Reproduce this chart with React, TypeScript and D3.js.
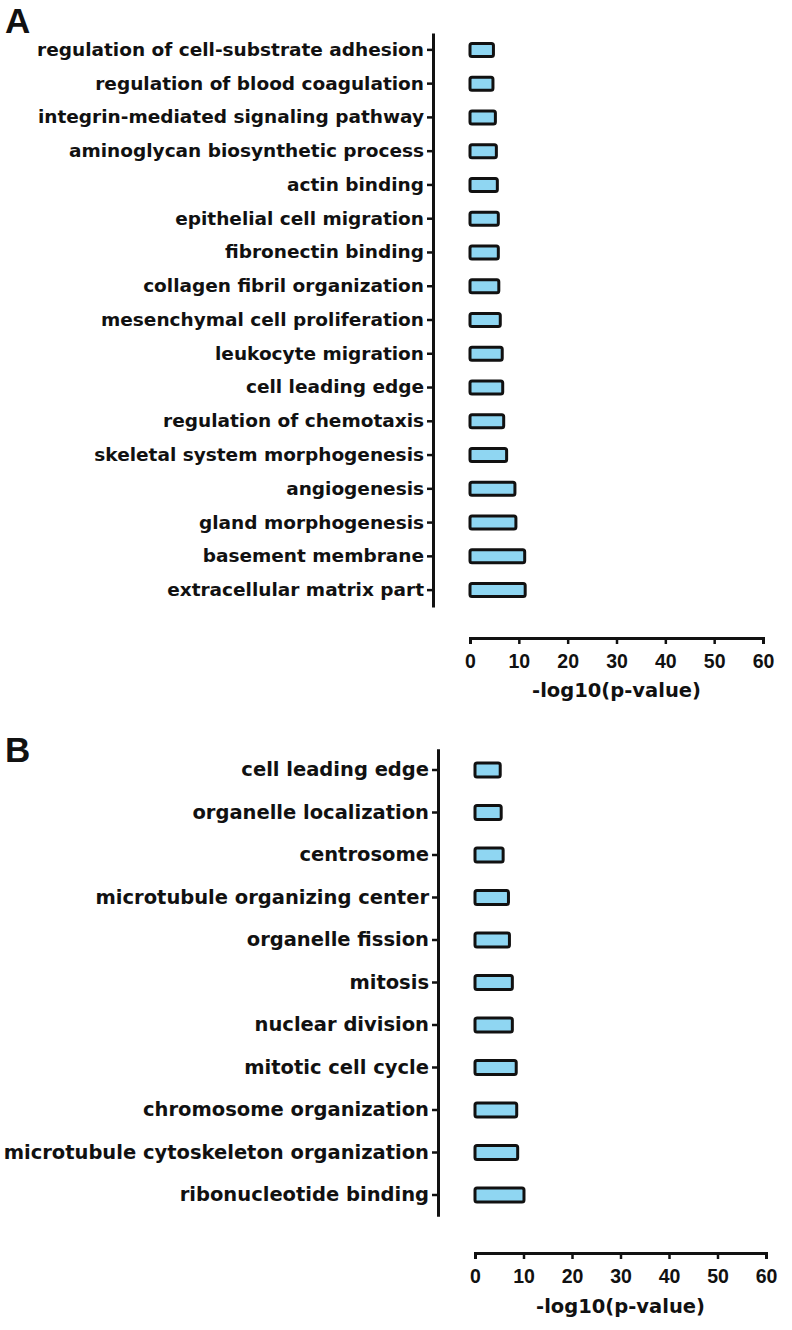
import { useEffect, useRef } from "react";
import * as d3 from "d3";

// panel A terms (top to bottom) and -log10(p) values
const termsA = [
  "regulation of cell-substrate adhesion",
  "regulation of blood coagulation",
  "integrin-mediated signaling pathway",
  "aminoglycan biosynthetic process",
  "actin binding",
  "epithelial cell migration",
  "fibronectin binding",
  "collagen fibril organization",
  "mesenchymal cell proliferation",
  "leukocyte migration",
  "cell leading edge",
  "regulation of chemotaxis",
  "skeletal system morphogenesis",
  "angiogenesis",
  "gland morphogenesis",
  "basement membrane",
  "extracellular matrix part",
];
const valuesA = [4.8, 4.7, 5.2, 5.4, 5.6, 5.8, 5.8, 5.9, 6.2, 6.6, 6.7, 6.9, 7.5, 9.2, 9.4, 11.2, 11.3];

// panel B
const termsB = [
  "cell leading edge",
  "organelle localization",
  "centrosome",
  "microtubule organizing center",
  "organelle fission",
  "mitosis",
  "nuclear division",
  "mitotic cell cycle",
  "chromosome organization",
  "microtubule cytoskeleton organization",
  "ribonucleotide binding",
];
const valuesB = [5.2, 5.4, 5.8, 6.9, 7.1, 7.7, 7.7, 8.5, 8.6, 8.8, 10.1];

const xTicks = [0, 10, 20, 30, 40, 50, 60];
const xTitle = "-log10(p-value)";

const FONT = "'DejaVu Sans', Verdana, sans-serif";
const NUM_FONT = "'Liberation Sans', Arial, sans-serif";
const INK = "#111";

const App = () => {
  const svgRef = useRef<SVGSVGElement | null>(null);

  useEffect(() => {
    const svg = d3.select(svgRef.current);
    svg.selectAll("*").remove();

    const drawPanel = (
      letter: string,
      letterY: number,
      terms: string[],
      values: number[],
      cfg: {
        x0: number; x1: number; yTop: number; yBot: number;
        xAxisY: number; barH: number; labelSize: number; titleY: number;
      }
    ) => {
      const g = svg.append("g");

      g.append("text")
        .attr("x", 5)
        .attr("y", letterY)
        .attr("font-family", NUM_FONT)
        .attr("font-weight", "bold")
        .attr("font-size", 35)
        .attr("fill", INK)
        .text(letter);

      const x = d3.scaleLinear().domain([0, 60]).range([cfg.x0, cfg.x1]);
      const y = d3.scaleBand().domain(terms).range([cfg.yTop, cfg.yBot]);

      // bars
      g.selectAll("rect.bar")
        .data(values)
        .join("rect")
        .attr("class", "bar")
        .attr("x", x(0))
        .attr("y", (_, i) => y(terms[i])! + y.bandwidth() / 2 - cfg.barH / 2)
        .attr("width", (d) => x(d) - x(0))
        .attr("height", cfg.barH)
        .attr("rx", 2)
        .attr("fill", "#8fd6f2")
        .attr("stroke", INK)
        .attr("stroke-width", 3);

      // y axis
      const yAxis = g.append("g")
        .attr("transform", `translate(${cfg.x0 - 37},0)`)
        .call(d3.axisLeft(y).tickSize(6).tickSizeOuter(0).tickPadding(3));
      yAxis.select(".domain").attr("stroke", INK).attr("stroke-width", 3);
      yAxis.selectAll(".tick line").attr("stroke", INK).attr("stroke-width", 2.5);
      yAxis.selectAll(".tick text")
        .attr("font-family", FONT)
        .attr("font-weight", "bold")
        .attr("font-size", cfg.labelSize)
        .attr("fill", INK);

      // x axis
      const xAxis = g.append("g")
        .attr("transform", `translate(0,${cfg.xAxisY})`)
        .call(d3.axisBottom(x).tickValues(xTicks).tickSize(6).tickSizeOuter(6).tickPadding(10));
      xAxis.select(".domain").attr("stroke", INK).attr("stroke-width", 3);
      xAxis.selectAll(".tick line").attr("stroke", INK).attr("stroke-width", 2.5);
      xAxis.selectAll(".tick text")
        .attr("font-family", NUM_FONT)
        .attr("font-weight", "bold")
        .attr("font-size", 19.5)
        .attr("fill", INK);

      g.append("text")
        .attr("x", (cfg.x0 + cfg.x1) / 2)
        .attr("y", cfg.titleY)
        .attr("text-anchor", "middle")
        .attr("font-family", FONT)
        .attr("font-weight", "bold")
        .attr("font-size", 19.5)
        .attr("fill", INK)
        .text(xTitle);
    };

    drawPanel("A", 33, termsA, valuesA, {
      x0: 470, x1: 763, yTop: 33, yBot: 607, xAxisY: 638,
      barH: 13, labelSize: 18.5, titleY: 697,
    });
    drawPanel("B", 762, termsB, valuesB, {
      x0: 475, x1: 766, yTop: 748.75, yBot: 1216.25, xAxisY: 1253,
      barH: 14, labelSize: 19.5, titleY: 1313,
    });
  }, []);

  return (
    <svg
      ref={svgRef}
      width={792}
      height={1330}
      style={{ position: "absolute", left: 0, top: 0, background: "#fff" }}
    />
  );
};

export default App;
